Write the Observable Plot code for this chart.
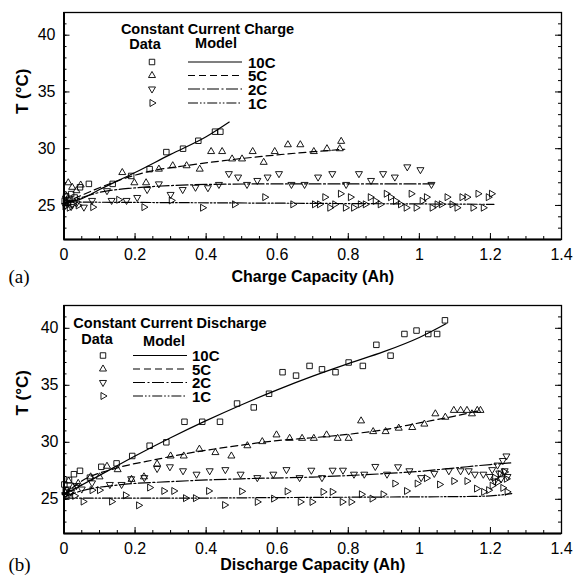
<!DOCTYPE html>
<html><head><meta charset="utf-8">
<script src="https://cdn.jsdelivr.net/npm/d3@7"></script>
<script src="https://cdn.jsdelivr.net/npm/@observablehq/plot@0.6"></script>
<style>
body{margin:0;background:#fff;}
#wrap{width:573px;height:581px;overflow:hidden;}
#wrap svg{display:block;}
</style></head><body><div id="wrap"></div>
<script>
// ---------- tick labels ----------
const xTicks = [0, 0.2, 0.4, 0.6, 0.8, 1, 1.2, 1.4];
const yTicks = [25, 30, 35, 40];
const xMinorTicks = [0,0.05,0.1,0.15,0.2,0.25,0.3,0.35,0.4,0.45,0.5,0.55,0.6,0.65,0.7,0.75,0.8,0.85,0.9,0.95,1,1.05,1.1,1.15,1.2,1.25,1.3,1.35,1.4];
const yMinorTicks = [22,23,24,25,26,27,28,29,30,31,32,33,34,35,36,37,38,39,40,41,42];
const rates = ["10C", "5C", "2C", "1C"];

// ---------- (a) charge: measured data ----------
const chg10x = [0.002,0.006,0.01,0.015,0.02,0.03,0.045,0.07,0.137,0.189,0.241,0.288,0.335,0.378,0.425,0.44];
const chg10y = [25.4,25.8,25.2,25.6,26.0,25.7,26.6,26.9,26.9,27.6,28.2,29.7,30.0,30.7,31.5,31.5];
const chg5x = [0.005,0.012,0.023,0.035,0.047,0.164,0.198,0.231,0.267,0.306,0.345,0.382,0.414,0.445,0.473,0.501,0.531,0.562,0.593,0.63,0.665,0.703,0.74,0.776,0.78];
const chg5y = [25.9,27.0,26.6,26.3,26.8,27.9,27.0,27.0,28.2,28.5,28.5,28.2,29.75,29.75,29.1,29.1,29.75,28.8,29.75,30.35,30.35,29.75,30.0,30.0,30.65];
const chg2x = [0.003,0.01,0.02,0.035,0.056,0.079,0.121,0.134,0.176,0.206,0.234,0.267,0.3,0.334,0.37,0.405,0.436,0.464,0.49,0.515,0.544,0.573,0.605,0.64,0.677,0.715,0.755,0.794,0.83,0.864,0.898,0.931,0.966,1.003,1.034];
const chg2y = [25.0,25.5,24.9,25.2,24.85,25.44,26.3,25.44,25.44,25.7,26.4,26.9,25.97,26.4,26.6,26.56,26.85,27.8,27.5,26.85,27.2,27.5,27.8,26.85,26.85,27.5,27.8,26.85,27.8,27.2,27.8,27.5,28.4,28.15,26.85];
const chg1x = [0.003,0.008,0.015,0.025,0.04,0.081,0.154,0.225,0.302,0.39,0.48,0.565,0.644,0.705,0.719,0.734,0.748,0.762,0.778,0.792,0.806,0.815,0.834,0.848,0.862,0.876,0.89,0.907,0.919,0.933,0.947,0.963,0.977,0.991,1.008,1.02,1.036,1.05,1.062,1.078,1.092,1.106,1.12,1.134,1.151,1.165,1.18,1.194,1.203];
const chg1y = [24.9,25.3,24.8,25.1,25.0,24.85,25.5,24.85,25.44,24.8,25.1,25.73,25.1,25.1,25.1,25.73,24.8,25.1,26.03,24.8,25.73,24.8,25.1,25.1,25.73,25.4,25.1,26.03,25.73,25.4,25.1,24.8,26.03,24.8,25.4,25.73,24.8,25.1,25.1,25.73,25.1,24.8,25.73,25.73,24.8,26.03,24.8,25.73,26.03];

// ---------- (a) charge: model curves ----------
const mChg10x = [0,0.05,0.1,0.2,0.3,0.4,0.465];
const mChg10y = [25.2,25.6,26.4,27.9,29.5,31.05,32.35];
const mChg5x = [0,0.05,0.14,0.24,0.34,0.45,0.55,0.65,0.79];
const mChg5y = [25.2,25.9,27.05,28.0,28.5,28.95,29.3,29.6,29.95];
const mChg2x = [0,0.05,0.1,0.2,0.3,0.4,0.6,0.8,1.04];
const mChg2y = [25.2,25.7,26.15,26.55,26.75,26.85,26.9,26.9,26.9];
const mChg1x = [0,0.3,0.6,0.9,1.21];
const mChg1y = [25.3,25.25,25.2,25.15,25.1];

// ---------- (b) discharge: measured data ----------
const dis10x = [0.001,0.005,0.014,0.028,0.045,0.073,0.105,0.148,0.192,0.241,0.288,0.339,0.389,0.439,0.487,0.534,0.577,0.615,0.653,0.691,0.726,0.764,0.801,0.841,0.879,0.919,0.958,0.992,1.025,1.05,1.072];
const dis10y = [26.3,25.8,26.7,27.2,27.5,26.9,27.85,28.15,28.8,29.7,30.0,31.8,31.8,31.8,33.4,33.06,34.26,36.15,35.85,36.7,36.4,36.15,37.0,36.7,38.55,37.6,39.5,39.8,39.5,39.5,40.7];
const dis5x = [0.004,0.013,0.025,0.04,0.075,0.1,0.121,0.151,0.19,0.225,0.262,0.3,0.337,0.381,0.426,0.471,0.516,0.558,0.598,0.635,0.67,0.703,0.739,0.77,0.801,0.836,0.87,0.905,0.942,0.98,1.014,1.045,1.073,1.097,1.116,1.134,1.148,1.163,1.172];
const dis5y = [25.6,26.6,26.1,26.4,26.97,26.97,27.9,27.6,26.75,26.97,28.1,28.8,28.8,29.4,29.1,28.8,29.7,30.06,30.65,30.35,30.35,30.35,30.65,30.35,30.35,31.88,30.94,30.94,31.24,31.3,31.6,32.5,32.2,32.8,32.8,32.8,32.5,32.8,32.8];
const dis2x = [0.003,0.01,0.02,0.035,0.05,0.079,0.129,0.162,0.189,0.226,0.262,0.298,0.335,0.373,0.41,0.454,0.497,0.544,0.589,0.626,0.663,0.696,0.726,0.756,0.785,0.816,0.845,0.876,0.909,0.94,0.972,1.005,1.042,1.083,1.116,1.139,1.156,1.18,1.198,1.205,1.212,1.22,1.225,1.23,1.235,1.24,1.245,1.248];
const dis2y = [25.4,25.9,25.6,26.2,25.9,26.44,26.3,26.3,26.8,26.9,27.7,27.85,27.5,27.2,27.5,27.6,27.2,26.9,27.2,27.6,26.9,27.55,26.9,27.55,27.55,27.2,27.2,27.88,27.2,27.85,27.5,26.9,27.27,27.5,27.5,27.5,27.2,27.2,27.0,27.6,26.6,28.0,27.3,26.8,28.4,27.5,28.8,27.0];
const dis1x = [0.005,0.015,0.03,0.054,0.079,0.1,0.134,0.173,0.21,0.241,0.281,0.309,0.342,0.37,0.407,0.452,0.5,0.544,0.59,0.628,0.665,0.698,0.729,0.755,0.783,0.808,0.837,0.867,0.898,0.931,0.964,0.994,1.02,1.057,1.097,1.134,1.161,1.181,1.195,1.205,1.212,1.22,1.228,1.235,1.24,1.245,1.247];
const dis1y = [25.2,25.6,25.3,24.8,25.8,25.8,24.8,25.35,24.47,26.03,25.73,25.73,25.1,25.1,25.73,24.5,25.7,24.77,25.06,25.7,24.77,24.77,25.65,25.65,24.77,24.77,25.44,25.06,25.44,26.38,25.73,26.38,26.85,26.3,26.6,26.6,25.94,25.65,25.8,26.2,26.9,26.5,27.2,26.0,27.4,26.8,25.65];

// ---------- (b) discharge: model curves ----------
const mDis10x = [0,0.1,0.2,0.3,0.4,0.5,0.6,0.7,0.8,0.9,1.0,1.075];
const mDis10y = [25.4,27.1,28.8,30.4,31.9,33.3,34.6,35.8,36.9,37.95,39.2,40.4];
const mDis5x = [0,0.05,0.15,0.26,0.37,0.5,0.6,0.7,0.8,0.9,1.0,1.1,1.17];
const mDis5y = [25.4,26.6,27.75,28.5,29.15,29.75,30.15,30.4,30.7,31.1,31.7,32.3,32.8];
const mDis2x = [0,0.05,0.15,0.3,0.5,0.7,0.9,1.0,1.1,1.2,1.26];
const mDis2y = [25.2,25.75,26.25,26.55,26.8,26.95,27.25,27.45,27.75,28.05,28.2];
const mDis1x = [0,0.3,0.6,0.9,1.15,1.2,1.26];
const mDis1y = [25.1,25.1,25.15,25.2,25.25,25.3,25.5];

// ---------- styles ----------
const FONT = "'Liberation Sans', Arial, Helvetica, sans-serif";
const symbols = [
  {symbol: "square", r: 3.1, rotate: 0},
  {symbol: "triangle", r: 2.6, rotate: 0},
  {symbol: "triangle", r: 2.6, rotate: 180},
  {symbol: "triangle", r: 2.6, rotate: 90}
];
const dashes = [null, "7,4", "12,2.5,2,2.5", "10,2,1.6,2,1.6,2"];

function pts(xs, ys) { return xs.map((x, i) => ({x, y: ys[i]})); }

function panel(cfg) {
  const W = 573, ml = 63.5, mr = 12;
  const fw = W - ml - mr, fh = cfg.h - cfg.mt - cfg.mb;
  const marks = [
    Plot.frame({stroke: "black", strokeWidth: 1.3}),
    Plot.ruleX([0], {stroke: "black", strokeWidth: 2}),
    Plot.ruleY([22], {stroke: "black", strokeWidth: 2}),
    Plot.tickX(xMinorTicks, {x: d => d, insetTop: fh - 3, strokeWidth: 1}),
    Plot.tickX(xTicks, {x: d => d, insetTop: fh - 6, strokeWidth: 1}),
    Plot.tickY(yMinorTicks, {y: d => d, insetRight: fw - 3, strokeWidth: 1}),
    Plot.tickY(yTicks, {y: d => d, insetRight: fw - 6, strokeWidth: 1}),
    Plot.tickY(yMinorTicks, {y: d => d, insetLeft: fw - 3, strokeWidth: 1}),
    Plot.tickY(yTicks, {y: d => d, insetLeft: fw - 6, strokeWidth: 1}),
    Plot.axisX({ticks: xTicks, tickSize: 0, tickPadding: 9, fontSize: 16, tickFormat: d3.format("~g"), label: null}),
    Plot.axisY({ticks: yTicks, tickSize: 0, tickPadding: cfg.yPad, fontSize: 16, label: null})
  ];
  cfg.models.forEach((m, i) => {
    marks.push(Plot.line(pts(m[0], m[1]), {x: "x", y: "y", stroke: "black", strokeWidth: 1.2,
      strokeDasharray: dashes[i], curve: "monotone-x"}));
  });
  cfg.series.forEach((s, i) => {
    marks.push(Plot.dot(pts(s[0], s[1]), {x: "x", y: "y", symbol: symbols[i].symbol, r: symbols[i].r,
      rotate: symbols[i].rotate, stroke: "black", fill: "none", strokeWidth: 0.9}));
  });
  marks.push(
    Plot.text([cfg.xLabel], {frameAnchor: "bottom", dy: cfg.xLabelDy, lineAnchor: "middle",
      fontWeight: "bold", fontSize: 16}),
    Plot.text(["T (°C)"], {frameAnchor: "left", dx: -41, dy: cfg.yLabelDy, rotate: -90,
      lineAnchor: "middle", fontWeight: "bold", fontSize: 17, letterSpacing: "1.5px"}),
    Plot.text([cfg.tag], {frameAnchor: "bottom-left", dx: 8 - ml, dy: cfg.xLabelDy, textAnchor: "start",
      lineAnchor: "middle", fontFamily: "'Liberation Serif', 'Times New Roman', serif", fontSize: 19})
  );
  const svg = Plot.plot({
    width: W, height: cfg.h,
    marginLeft: ml, marginRight: mr, marginTop: cfg.mt, marginBottom: cfg.mb,
    x: {domain: [0, 1.4]},
    y: {domain: [22, 42]},
    style: {fontFamily: FONT, fontSize: "16px", background: "white", color: "black", overflow: "visible"},
    marks
  });
  // legend
  const L = cfg.legend;
  const g = d3.select(svg).append("g").attr("font-family", FONT).attr("font-weight", "bold").attr("fill", "black");
  g.append("text").attr("x", L.titleX).attr("y", L.titleY).attr("text-anchor", "middle")
    .attr("dominant-baseline", "central").attr("font-size", 14.5).text(L.title);
  g.append("text").attr("x", L.dataX).attr("y", L.dataY).attr("text-anchor", "middle")
    .attr("dominant-baseline", "central").attr("font-size", 14.5).text("Data");
  g.append("text").attr("x", L.modelX).attr("y", L.modelY).attr("text-anchor", "middle")
    .attr("dominant-baseline", "central").attr("font-size", 14.5).text("Model");
  rates.forEach((r, i) => {
    const y = L.rows[i];
    const sym = symbols[i];
    g.append("path")
      .attr("d", d3.symbol(sym.symbol === "square" ? d3.symbolSquare : d3.symbolTriangle, Math.PI * sym.r * sym.r)())
      .attr("transform", `translate(${L.markX},${y}) rotate(${sym.rotate})`)
      .attr("fill", "none").attr("stroke", "black").attr("stroke-width", 0.9);
    g.append("line").attr("x1", L.lineX1).attr("x2", L.lineX2).attr("y1", y).attr("y2", y)
      .attr("stroke", "black").attr("stroke-width", 1.2).attr("stroke-dasharray", dashes[i]);
    g.append("text").attr("x", L.labelX).attr("y", y).attr("text-anchor", "start")
      .attr("dominant-baseline", "central").attr("font-size", 15).text(r);
  });
  return svg;
}

const wrap = document.getElementById("wrap");
wrap.appendChild(panel({
  h: 290, mt: 12, mb: 51, yPad: 8.5, xLabelDy: 37, yLabelDy: -12,
  xLabel: "Charge Capacity (Ah)", tag: "(a)",
  series: [[chg10x, chg10y], [chg5x, chg5y], [chg2x, chg2y], [chg1x, chg1y]],
  models: [[mChg10x, mChg10y], [mChg5x, mChg5y], [mChg2x, mChg2y], [mChg1x, mChg1y]],
  legend: {title: "Constant Current Charge", titleX: 207.5, titleY: 29, dataX: 145, dataY: 44,
    modelX: 216, modelY: 43, rows: [62, 75.5, 89, 103], markX: 152, lineX1: 188, lineX2: 242, labelX: 248}
}));
wrap.appendChild(panel({
  h: 291, mt: 15, mb: 48, yPad: 5.5, xLabelDy: 31, yLabelDy: -4,
  xLabel: "Discharge Capacity (Ah)", tag: "(b)",
  series: [[dis10x, dis10y], [dis5x, dis5y], [dis2x, dis2y], [dis1x, dis1y]],
  models: [[mDis10x, mDis10y], [mDis5x, mDis5y], [mDis2x, mDis2y], [mDis1x, mDis1y]],
  legend: {title: "Constant Current Discharge", titleX: 170, titleY: 33, dataX: 97, dataY: 49,
    modelX: 164, modelY: 51, rows: [65.5, 79, 92.5, 106], markX: 103, lineX1: 133, lineX2: 187, labelX: 192}
}));
</script></body></html>
